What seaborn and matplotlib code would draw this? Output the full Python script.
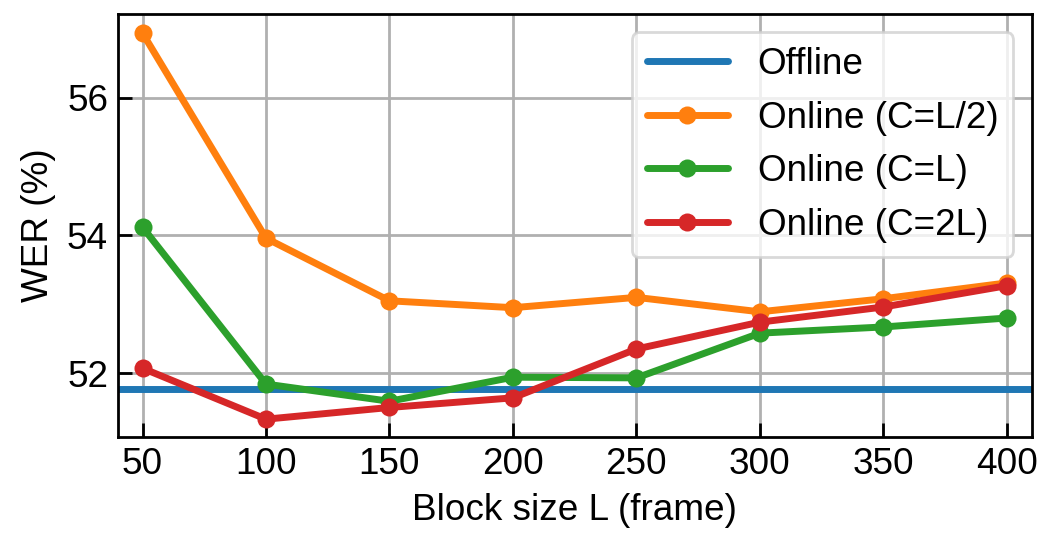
import numpy as np
import pandas as pd
import matplotlib.pyplot as plt
import seaborn as sns

block_size = [50, 100, 150, 200, 250, 300, 350, 400]
wer_offline = 51.77
wer_half = [56.94, 53.96, 53.05, 52.95, 53.10, 52.89, 53.08, 53.31]
wer_same = [54.12, 51.84, 51.59, 51.94, 51.93, 52.58, 52.67, 52.80]
wer_double = [52.07, 51.33, 51.50, 51.64, 52.35, 52.74, 52.96, 53.27]

sns.set_style("whitegrid")
plt.rcParams['font.family'] = ['Liberation Sans', 'DejaVu Sans']
plt.rcParams['font.size'] = 13.3
plt.rcParams['text.color'] = 'black'
plt.rcParams['axes.labelcolor'] = 'black'

df = pd.DataFrame({
    "L": block_size * 3,
    "WER": wer_half + wer_same + wer_double,
    "method": (["Online (C=L/2)"] * 8 + ["Online (C=L)"] * 8
               + ["Online (C=2L)"] * 8),
})

fig = plt.figure(figsize=(5.215, 2.665), dpi=200)
ax = fig.add_axes([0.113, 0.18, 0.876, 0.794])

ax.axhline(wer_offline, color="#1f77b4", linewidth=2.5, label="Offline")
sns.lineplot(data=df, x="L", y="WER", hue="method", ax=ax,
             palette=["#ff7f0e", "#2ca02c", "#d62728"],
             marker="o", markersize=6.5, markeredgewidth=0, linewidth=2.5)

ax.set_xlim(40, 410)
ax.set_ylim(51.07, 57.22)
ax.set_xticks(block_size)
ax.set_yticks([52, 54, 56])
ax.set_xlabel("Block size L (frame)", fontsize=13.3, color="black")
ax.set_ylabel("WER (%)", fontsize=13.3, color="black")
ax.grid(True, color="#b0b0b0", linewidth=1.0)
for s in ax.spines.values():
    s.set_color("black")
    s.set_linewidth(1.0)
ax.tick_params(direction="in", length=5, width=1, colors="black",
               labelsize=13.3, left=True, bottom=True)

leg = ax.legend(loc="upper right", fontsize=13.3, framealpha=0.8,
                edgecolor="#d0d0d0", handlelength=2.2, fancybox=True)
for t in leg.get_texts():
    t.set_color("black")

fig.savefig("out.png", dpi=200)
